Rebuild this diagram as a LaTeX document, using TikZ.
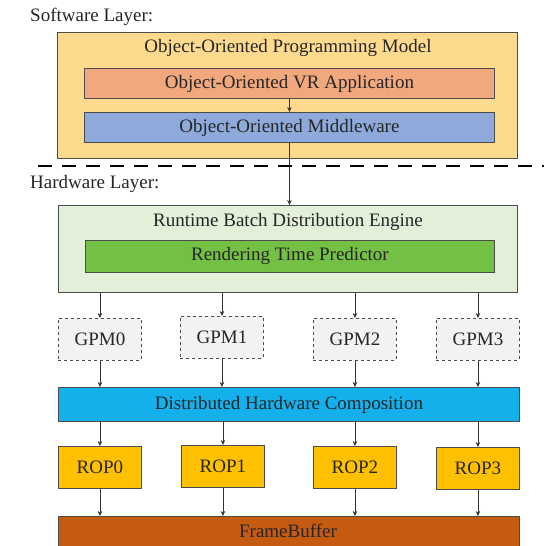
\documentclass[tikz,border=0pt]{standalone}
\usepackage{fontspec}
\setmainfont{Liberation Serif}
\usetikzlibrary{arrows.meta}
\definecolor{swyellow}{RGB}{253,218,142}
\definecolor{salmon}{RGB}{242,168,125}
\definecolor{mwblue}{RGB}{142,170,219}
\definecolor{lgreen}{RGB}{226,239,217}
\definecolor{pgreen}{RGB}{116,192,68}
\definecolor{gpmgray}{RGB}{242,242,242}
\definecolor{dhcblue}{RGB}{20,176,236}
\definecolor{ropgold}{RGB}{255,192,0}
\definecolor{fbbrown}{RGB}{197,90,17}
\begin{document}
\begin{tikzpicture}[x=1pt,y=-1pt,
  box/.style={draw=black!70, line width=0.9pt, inner sep=0pt, anchor=north west},
  lbl/.style={font=\fontsize{19}{22}\selectfont, text=black!85, inner sep=0pt},
  arr/.style={draw=black!80, line width=0.8pt, -{Stealth[length=5pt,width=4.5pt]}},
  unit/.style={box, minimum width=83pt, minimum height=42pt, font=\fontsize{19}{22}\selectfont, text=black!85}]
\useasboundingbox (0,0) rectangle (544,546);
% software layer
\node[lbl, anchor=west] (swl) at (30,17) {Software Layer:};
\node[box, fill=swyellow, minimum width=460pt, minimum height=126pt] (oopm) at (57,32) {};
\node[lbl] (oopmt) at (288,48) {Object-Oriented Programming Model};
\node[box, fill=salmon, minimum width=410pt, minimum height=30pt, lbl] (vr) at (84,68) {Object-Oriented VR Application};
\node[box, fill=mwblue, minimum width=410pt, minimum height=30pt, lbl] (mw) at (84,112) {Object-Oriented Middleware};
% separator
\coordinate (dl) at (38,166);
\coordinate (dr) at (544,166);
\draw[line width=2.2pt, dash pattern=on 14pt off 10pt] (dl) -- (dr);
\node[lbl, anchor=west] (hwl) at (30,184) {Hardware Layer:};
% hardware layer
\node[box, fill=lgreen, minimum width=459pt, minimum height=87pt] (rbde) at (58,205) {};
\node[lbl] (rbdet) at (288,222) {Runtime Batch Distribution Engine};
\node[box, fill=pgreen, minimum width=409pt, minimum height=32pt, lbl] (rtp) at (85,240) {Rendering Time Predictor};
\node[unit, fill=gpmgray, dashed] (g0) at (58,318) {GPM0};
\node[unit, fill=gpmgray, dashed] (g1) at (180,316) {GPM1};
\node[unit, fill=gpmgray, dashed] (g2) at (313,318) {GPM2};
\node[unit, fill=gpmgray, dashed] (g3) at (436,318) {GPM3};
\node[box, fill=dhcblue, minimum width=461pt, minimum height=34pt, lbl] (dhc) at (58,387) {Distributed Hardware Composition};
\node[unit, fill=ropgold] (r0) at (58,446) {ROP0};
\node[unit, fill=ropgold] (r1) at (181,445) {ROP1};
\node[unit, fill=ropgold] (r2) at (313,446) {ROP2};
\node[unit, fill=ropgold] (r3) at (436,447) {ROP3};
\node[box, fill=fbbrown, minimum width=461pt, minimum height=44pt] (fb) at (58,516) {};
\node[lbl] (fbt) at (288,531) {FrameBuffer};
% connectors
\draw[arr] (vr.south) -- (mw.north);
\draw[arr] (mw.south) -- (rbde.north -| mw.south);
\foreach \g in {g0,g1,g2,g3}{
  \draw[arr] (rbde.south -| \g.north) -- (\g.north);
  \draw[arr] (\g.south) -- (dhc.north -| \g.south);
}
\foreach \r in {r0,r1,r2,r3}{
  \draw[arr] (dhc.south -| \r.north) -- (\r.north);
  \draw[arr] (\r.south) -- (fb.north -| \r.south);
}
\end{tikzpicture}
\end{document}
